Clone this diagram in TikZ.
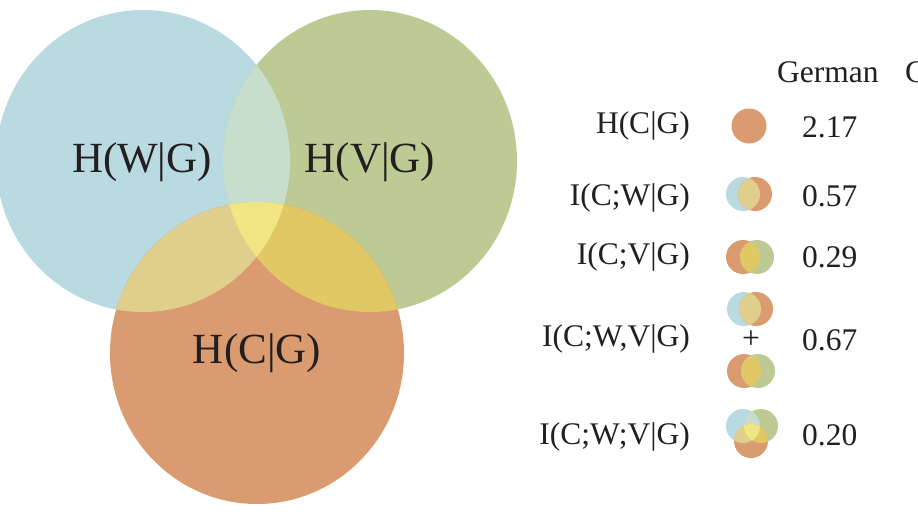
\documentclass[tikz,border=0pt]{standalone}
\usepackage{fontspec}
\setmainfont{Liberation Serif}

\definecolor{wblue}{HTML}{B8DAE0}
\definecolor{vgreen}{HTML}{BDCA94}
\definecolor{corange}{HTML}{D99B6F}
\definecolor{wv}{HTML}{C7DECD}
\definecolor{wc}{HTML}{E0CE8C}
\definecolor{vc}{HTML}{E2C865}
\definecolor{wvc}{HTML}{F1E683}
\definecolor{ink}{HTML}{231F20}

% two circles: centres #1,#2; colours #3,#4; overlap #5
\newcommand{\duo}[5]{%
	\fill[#3] (#1) circle (17pt);
	\fill[#4] (#2) circle (17pt);
	\begin{scope}\clip (#1) circle (17pt); \fill[#5] (#2) circle (17pt);\end{scope}}

% three sets W, V, C: centres #1,#2,#3; #4 the shape
\newcommand{\trio}[4]{%
	\fill[wblue] (#1) #4;
	\fill[vgreen] (#2) #4;
	\fill[corange] (#3) #4;
	\begin{scope}\clip (#1) #4; \fill[wv] (#2) #4;\end{scope}
	\begin{scope}\clip (#1) #4; \fill[wc] (#3) #4;\end{scope}
	\begin{scope}\clip (#2) #4; \fill[vc] (#3) #4;\end{scope}
	\begin{scope}\clip (#1) #4; \clip (#2) #4; \fill[wvc] (#3) #4;\end{scope}}

\begin{document}
\begin{tikzpicture}[
				x=1pt,y=-1pt,
				every node/.style={inner sep=0pt, text=ink},
				big/.style={font=\fontsize{43}{43}\selectfont, anchor=base},
				leg/.style={font=\fontsize{31.5}{31.5}\selectfont},
			]
			\useasboundingbox (0,0) rectangle (918,517);

			\trio{143,161}{370,161}{257,353}{ellipse (147pt and 151pt)};

			\node[big] (hw) at (142,172) {H(W|G)};
			\node[big] (hv) at (370,172) {H(V|G)};
			\node[big] (hc) at (257,363) {H(C|G)};

			\node[leg, anchor=base west] (german) at (777,82) {German};
			\node[leg, anchor=base west] (other) at (905,82) {G};

			\node[leg, anchor=base east] (lhc) at (690,133) {H(C|G)};
			\node[leg, anchor=base east] (licw) at (690,205) {I(C;W|G)};
			\node[leg, anchor=base east] (licv) at (690,264) {I(C;V|G)};
			\node[leg, anchor=base east] (licwv) at (690,346) {I(C;W,V|G)};
			\node[leg, anchor=base east] (licwvs) at (690,444) {I(C;W;V|G)};

			\fill[corange] (749,126) circle (17.5pt);
			\duo{743,194}{755,194}{wblue}{corange}{wc}
			\duo{743,257}{757,257}{corange}{vgreen}{vc}
			\duo{744,309}{756,309}{wblue}{corange}{wc}
			\node[leg, anchor=base] (plus) at (751,348) {+};
			\duo{744,371}{758,371}{corange}{vgreen}{vc}
			\trio{743,426}{761,426}{751,441}{circle (17pt)};

			\node[leg, anchor=base west] (vhc) at (802,137) {2.17};
			\node[leg, anchor=base west] (vicw) at (802,206) {0.57};
			\node[leg, anchor=base west] (vicv) at (802,267) {0.29};
			\node[leg, anchor=base west] (vicwv) at (802,350) {0.67};
			\node[leg, anchor=base west] (vicwvs) at (802,445) {0.20};

		\end{tikzpicture}
\end{document}
